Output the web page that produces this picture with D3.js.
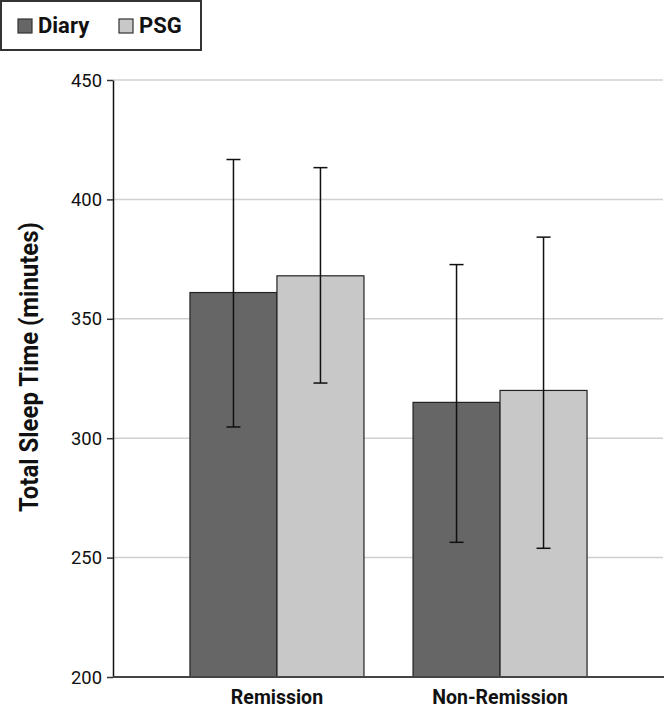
<!DOCTYPE html>
<html><head><meta charset="utf-8">
<script src="https://cdn.jsdelivr.net/npm/d3@7"></script>
<style>
body{margin:0;background:#fff;}
text{font-family:"Liberation Sans Narrow","Arial Narrow","Roboto Condensed",Roboto,"Liberation Sans",Arial,sans-serif;}
</style></head>
<body>
<svg id="chart" width="664" height="709"></svg>
<script>
const categories = ["Remission", "Non-Remission"];
const seriesNames = ["Diary", "PSG"];
const diaryValues = [361, 315];
const psgValues = [368, 320];
const diaryErrLow = [304.7, 256.4];
const diaryErrHigh = [416.7, 372.7];
const psgErrLow = [323.1, 253.9];
const psgErrHigh = [413.3, 384.2];
const yTicks = [200, 250, 300, 350, 400, 450];
const colors = ["#666666", "#c8c8c8"];

const svg = d3.select("#chart");
const y = d3.scaleLinear().domain([200, 450]).range([677, 80]);
const x = d3.scaleBand().domain(categories).range([113, 664]).paddingInner(0.22).paddingOuter(0.345);
const xs = d3.scaleBand().domain(seriesNames).range([0, x.bandwidth()]);

// gridlines
svg.append("g").selectAll("line").data(yTicks.filter(t => t > 200)).join("line")
  .attr("x1", 113).attr("x2", 663).attr("y1", d => y(d)).attr("y2", d => y(d))
  .attr("stroke", "#d0d0d0").attr("stroke-width", 1.5);

const data = categories.map((c, i) => [
  {cat: c, s: "Diary", v: diaryValues[i], lo: diaryErrLow[i], hi: diaryErrHigh[i], color: colors[0]},
  {cat: c, s: "PSG", v: psgValues[i], lo: psgErrLow[i], hi: psgErrHigh[i], color: colors[1]}
]).flat();

svg.append("g").selectAll("rect").data(data).join("rect")
  .attr("x", d => x(d.cat) + xs(d.s)).attr("width", xs.bandwidth())
  .attr("y", d => y(d.v)).attr("height", d => y(200) - y(d.v))
  .attr("fill", d => d.color).attr("stroke", "#222").attr("stroke-width", 1.2);

const eb = svg.append("g").attr("stroke", "#111").attr("stroke-width", 1.5);
data.forEach(d => {
  const cx = x(d.cat) + xs(d.s) + xs.bandwidth() / 2;
  eb.append("line").attr("x1", cx).attr("x2", cx).attr("y1", y(d.hi)).attr("y2", y(d.lo));
  eb.append("line").attr("x1", cx - 7).attr("x2", cx + 7).attr("y1", y(d.hi)).attr("y2", y(d.hi));
  eb.append("line").attr("x1", cx - 7).attr("x2", cx + 7).attr("y1", y(d.lo)).attr("y2", y(d.lo));
});

// y axis
const yAxis = svg.append("g").attr("transform", "translate(113,0)")
  .call(d3.axisLeft(y).tickValues(yTicks).tickSize(6).tickPadding(5).tickSizeOuter(0));
yAxis.select(".domain").attr("stroke", "#111").attr("stroke-width", 1.5);
yAxis.selectAll(".tick line").attr("stroke", "#333").attr("stroke-width", 1.5);
yAxis.selectAll(".tick text").attr("font-size", 19).attr("fill", "#111")
  .attr("textLength", 31).attr("lengthAdjust", "spacingAndGlyphs")
  .style("font-family", 'Roboto,"Liberation Sans",sans-serif');

// x axis
const xAxis = svg.append("g").attr("transform", "translate(0,677)")
  .call(d3.axisBottom(x).tickSize(0).tickPadding(13));
xAxis.select(".domain").attr("d", "M113,0H664").attr("stroke", "#444").attr("stroke-width", 2);
xAxis.selectAll(".tick text").attr("font-size", 19.5).attr("font-weight", "bold").attr("fill", "#111")
  .style("font-family", 'Roboto,"Liberation Sans",sans-serif');

// y title
svg.append("text").attr("transform", "translate(38,367) rotate(-90)")
  .attr("text-anchor", "middle").attr("font-size", 25).attr("font-weight", "bold").attr("fill", "#111")
  .attr("textLength", 290).attr("lengthAdjust", "spacingAndGlyphs")
  .style("font-family", 'Roboto,"Liberation Sans",sans-serif')
  .text("Total Sleep Time (minutes)");

// legend
const lg = svg.append("g");
lg.append("rect").attr("x", 1).attr("y", 1).attr("width", 200).attr("height", 49)
  .attr("fill", "#fff").attr("stroke", "#333").attr("stroke-width", 2);
const legX = [18, 119];
seriesNames.forEach((s, i) => {
  lg.append("rect").attr("x", legX[i]).attr("y", 19).attr("width", 14).attr("height", 14)
    .attr("fill", colors[i]).attr("stroke", "#333").attr("stroke-width", 1.2);
  lg.append("text").attr("x", legX[i] + 20).attr("y", 33).attr("font-size", 22).attr("font-weight", "bold")
    .style("font-family", 'Roboto,"Liberation Sans",sans-serif')
    .attr("fill", "#111").text(s);
});
</script>
</body></html>
